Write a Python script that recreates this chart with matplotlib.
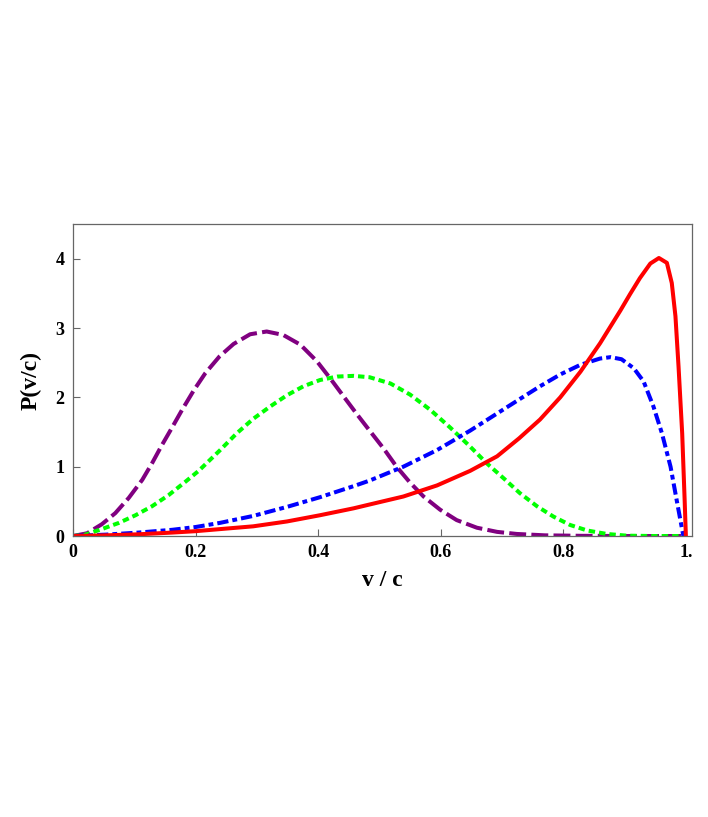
import matplotlib.pyplot as plt

# values
x_purple = [0.0, 0.023, 0.047, 0.069, 0.091, 0.113, 0.129, 0.145, 0.162, 0.178, 0.197,
            0.216, 0.239, 0.262, 0.289, 0.316, 0.343, 0.371, 0.398, 0.420, 0.441,
            0.463, 0.484, 0.507, 0.528, 0.550, 0.572, 0.599, 0.626, 0.659, 0.692,
            0.724, 0.770, 0.830, 0.900, 1.0]
y_purple = [0.0, 0.04, 0.17, 0.33, 0.55, 0.81, 1.05, 1.31, 1.57, 1.82, 2.10,
            2.35, 2.59, 2.77, 2.91, 2.95, 2.90, 2.76, 2.52, 2.27, 2.02,
            1.76, 1.52, 1.26, 1.00, 0.77, 0.57, 0.38, 0.23, 0.12, 0.06,
            0.03, 0.01, 0.003, 0.0, 0.0]

x_green = [0.0, 0.020, 0.047, 0.075, 0.102, 0.129, 0.156, 0.183, 0.205, 0.239, 0.267,
           0.294, 0.322, 0.349, 0.376, 0.403, 0.431, 0.458, 0.484, 0.518, 0.550,
           0.583, 0.616, 0.648, 0.675, 0.703, 0.729, 0.757, 0.784, 0.811, 0.839,
           0.871, 0.904, 0.950, 1.0]
y_green = [0.0, 0.02, 0.10, 0.19, 0.30, 0.43, 0.59, 0.78, 0.94, 1.23, 1.48,
           1.69, 1.87, 2.03, 2.16, 2.25, 2.30, 2.31, 2.29, 2.20, 2.04,
           1.82, 1.56, 1.29, 1.05, 0.83, 0.62, 0.43, 0.28, 0.16, 0.08,
           0.03, 0.005, 0.0, 0.0]

x_blue = [0.0, 0.053, 0.107, 0.162, 0.200, 0.240, 0.294, 0.349, 0.403, 0.458, 0.484,
          0.539, 0.594, 0.648, 0.728, 0.762, 0.795, 0.828, 0.860, 0.877, 0.895,
          0.915, 0.931, 0.947, 0.961, 0.975, 0.986, 0.994, 0.996]
y_blue = [0.0, 0.02, 0.05, 0.09, 0.13, 0.19, 0.29, 0.42, 0.56, 0.72, 0.80,
          1.00, 1.24, 1.52, 1.97, 2.16, 2.33, 2.47, 2.56, 2.58, 2.55,
          2.42, 2.23, 1.87, 1.48, 1.00, 0.47, 0.09, 0.0]

x_red = [0.0, 0.053, 0.107, 0.162, 0.200, 0.240, 0.294, 0.349, 0.403, 0.458, 0.484,
         0.539, 0.594, 0.648, 0.692, 0.728, 0.762, 0.795, 0.828, 0.860, 0.893,
         0.909, 0.925, 0.942, 0.956, 0.969, 0.977, 0.983, 0.988, 0.994, 0.998, 1.0]
y_red = [0.0, 0.01, 0.025, 0.05, 0.07, 0.10, 0.14, 0.21, 0.30, 0.40, 0.455,
         0.57, 0.73, 0.94, 1.15, 1.41, 1.68, 2.00, 2.37, 2.78, 3.25,
         3.49, 3.72, 3.93, 4.01, 3.94, 3.65, 3.17, 2.45, 1.48, 0.52, 0.0]

x_ticks = [0, 0.2, 0.4, 0.6, 0.8, 1.0]
x_tick_labels = ['0', '0.2', '0.4', '0.6', '0.8', '1.']
y_ticks = [0, 1, 2, 3, 4]

plt.rcParams['font.family'] = ['Liberation Serif', 'DejaVu Serif']

fig = plt.figure(figsize=(7.08, 8.17), dpi=100)
ax = fig.add_axes([0.1031, 0.3439, 0.8743, 0.3819])

lw = 2.9
style = dict(lw=lw, solid_joinstyle='round', dash_joinstyle='round')
ax.plot(x_purple, y_purple, color='#800080', dashes=(4.2, 1.3), **style)
ax.plot(x_green, y_green, color='#00ff00', dashes=(1.6, 1.0), **style)
ax.plot(x_blue, y_blue, color='#0000ff', dashes=(2.8, 1.0, 1.2, 1.0), **style)
ax.plot(x_red, y_red, color='#ff0000', **style)

ax.set_xlim(0, 1.01)
ax.set_ylim(0, 4.5)
ax.set_xticks(x_ticks)
ax.set_xticklabels(x_tick_labels)
ax.set_yticks(y_ticks)

for s in ax.spines.values():
    s.set_color('#666666')
    s.set_linewidth(0.9)
ax.tick_params(direction='in', length=5, width=0.8, color='#666666',
               labelsize=13, pad=6)
for lab in ax.get_xticklabels() + ax.get_yticklabels():
    lab.set_fontweight('bold')

ax.set_xlabel('v / c', fontsize=17, fontweight='bold', labelpad=6)
ax.set_ylabel('P(v/c)', fontsize=17, fontweight='bold', labelpad=10)

fig.savefig('out.png', dpi=100)
